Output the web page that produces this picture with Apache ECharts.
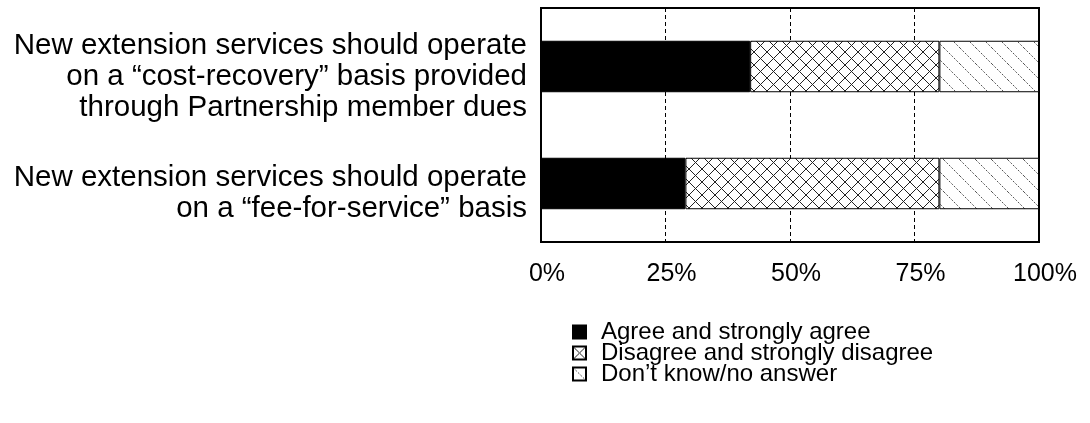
<!DOCTYPE html>
<html>
<head>
<meta charset="utf-8">
<script src="https://cdn.jsdelivr.net/npm/echarts@6/dist/echarts.min.js"></script>
<style>
html,body{margin:0;padding:0;background:#fff;}
#chart{width:1090px;height:423px;}
</style>
</head>
<body>
<div id="chart"></div>
<script>
const categories = [
  'New extension services should operate\non a \u201Ccost-recovery\u201D basis provided\nthrough Partnership member dues',
  'New extension services should operate\non a \u201Cfee-for-service\u201D basis'
];
const seriesNames = ['Agree and strongly agree', 'Disagree and strongly disagree', 'Don\u2019t know/no answer'];
const agree = [42, 29];
const disagree = [38, 51];
const dontKnow = [20, 20];
const tickValues = [0, 25, 50, 75, 100];

function crossPattern() {
  const c = document.createElement('canvas');
  c.width = 13; c.height = 13;
  const g = c.getContext('2d');
  g.fillStyle = '#fff'; g.fillRect(0, 0, 13, 13);
  g.strokeStyle = '#222'; g.lineWidth = 1;
  g.beginPath();
  g.moveTo(0, 0); g.lineTo(13, 13);
  g.moveTo(13, 0); g.lineTo(0, 13);
  g.stroke();
  return c;
}
function diagPattern() {
  const c = document.createElement('canvas');
  c.width = 16; c.height = 16;
  const g = c.getContext('2d');
  g.fillStyle = '#fff'; g.fillRect(0, 0, 16, 16);
  g.strokeStyle = '#555'; g.lineWidth = 1;
  g.setLineDash([2, 1.5]);
  g.beginPath();
  g.moveTo(0, 0); g.lineTo(16, 16);
  g.stroke();
  return c;
}

const chart = echarts.init(document.getElementById('chart'), null, {renderer: 'canvas'});
const font = 'Liberation Sans, Arial, Helvetica, sans-serif';
const crossFill = {image: crossPattern(), repeat: 'repeat'};
const diagFill = {image: diagPattern(), repeat: 'repeat'};

chart.setOption({
  animation: false,
  backgroundColor: '#fff',
  grid: {left: 541, right: 51, top: 8, bottom: 181, show: true, borderColor: '#000', borderWidth: 2, backgroundColor: 'transparent'},
  xAxis: {
    type: 'value', min: 0, max: 100, interval: 25,
    axisLine: {show: false}, axisTick: {show: false},
    splitLine: {show: true, lineStyle: {color: '#000', type: [4, 3], width: 1}},
    axisLabel: {
      margin: 20, color: '#000', fontFamily: font, fontSize: 25, padding: [0, 0, 0, 12],
      formatter: v => tickValues.includes(v) ? v + '%' : ''
    }
  },
  yAxis: {
    type: 'category', inverse: true, data: categories,
    axisLine: {show: false}, axisTick: {show: false},
    axisLabel: {
      interval: 0, hideOverlap: false,
      margin: 14, color: '#000', fontFamily: font, fontSize: 29.5, lineHeight: 31, align: 'right',
      formatter: v => '{s| }\n' + v.split('\n').map(l => '{t|' + l + '}').join('\n'),
      rich: {
        s: {fontSize: 10, lineHeight: 20},
        t: {fontFamily: font, fontSize: 29.5, lineHeight: 31, color: '#000'}
      }
    }
  },
  legend: {
    orient: 'vertical', left: 572, top: 320, padding: 0,
    icon: 'rect',
    itemWidth: 13, itemHeight: 13, itemGap: -3,
    data: seriesNames,
    textStyle: {color: '#000', fontFamily: font, fontSize: 24, lineHeight: 21, padding: [0, 0, 0, 10]}
  },
  series: [
    {name: seriesNames[0], type: 'bar', stack: 'all', data: agree, barWidth: '44%',
     itemStyle: {color: '#000', borderColor: '#000', borderWidth: 1}},
    {name: seriesNames[1], type: 'bar', stack: 'all', data: disagree, barWidth: '44%',
     itemStyle: {color: crossFill, borderColor: '#000', borderWidth: 1}},
    {name: seriesNames[2], type: 'bar', stack: 'all', data: dontKnow, barWidth: '44%',
     itemStyle: {color: diagFill, borderColor: '#000', borderWidth: 1}}
  ]
});
</script>
</body>
</html>
